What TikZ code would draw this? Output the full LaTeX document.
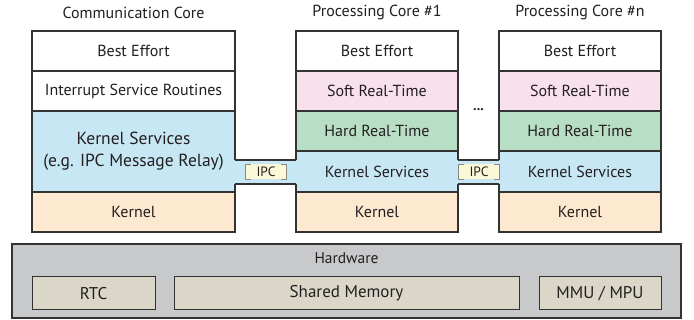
\documentclass[tikz,border=0pt]{standalone}
\usepackage{fontspec}
\setmainfont{PT Sans}
\definecolor{lineC}{HTML}{333333}
\definecolor{ksC}{HTML}{C7E7F4}
\definecolor{kC}{HTML}{FDE8D0}
\definecolor{srtC}{HTML}{F8E1EC}
\definecolor{hrtC}{HTML}{B9DEC6}
\definecolor{hwC}{HTML}{C8C9CB}
\definecolor{hwinC}{HTML}{DAD6C8}
\definecolor{ipcC}{HTML}{FBF8D8}
\definecolor{brkC}{HTML}{888888}
\definecolor{txtC}{HTML}{231F20}
\begin{document}
\begin{tikzpicture}[x=1pt,y=-1pt,
  every node/.style={font=\fontsize{16}{18}\selectfont, text=txtC},
  layer/.style={draw=lineC, line width=1.1pt, rectangle, inner sep=0pt, align=center, minimum height=40pt},
  cwide/.style={layer, minimum width=203pt},
  cnarrow/.style={layer, minimum width=162pt},
  title/.style={inner sep=0pt},
  ipcbox/.style={fill=ipcC, inner sep=0pt, minimum width=40pt, minimum height=15pt, font=\fontsize{13.5}{15}\selectfont},
  bracket/.style={draw=brkC, line width=1pt},
  hwbox/.style={draw=lineC, line width=1pt, fill=hwinC, inner sep=0pt, minimum height=33pt, font=\fontsize{17}{19}\selectfont}
]
\path[use as bounding box] (0,0) rectangle (694,320);

% titles
\node[title] (t0) at (133.5,13) {Communication Core};
\node[title] (t1) at (377,13) {Processing Core \#1};
\node[title] (t2) at (580,13) {Processing Core \#n};

% communication core
\node[cwide, fill=white] (c0be) at (133.5,51) {Best Effort};
\node[cwide, fill=white] (c0isr) at (133.5,91) {Interrupt Service Routines};
\node[cwide, fill=ksC, minimum height=81pt, font=\fontsize{17.5}{22}\selectfont] (c0ks) at (133.5,151.5) {Kernel Services\\(e.g. IPC Message Relay)};
\node[cwide, fill=kC] (c0k) at (133.5,212) {Kernel};

% processing core 1
\node[cnarrow, fill=white] (c1be) at (377,51) {Best Effort};
\node[cnarrow, fill=srtC] (c1srt) at (377,91) {Soft Real-Time};
\node[cnarrow, fill=hrtC] (c1hrt) at (377,131) {Hard Real-Time};
\node[cnarrow, fill=ksC, minimum height=41pt] (c1ks) at (377,171.5) {Kernel Services};
\node[cnarrow, fill=kC] (c1k) at (377,212) {Kernel};

% processing core n
\node[cnarrow, fill=white] (c2be) at (580,51) {Best Effort};
\node[cnarrow, fill=srtC] (c2srt) at (580,91) {Soft Real-Time};
\node[cnarrow, fill=hrtC] (c2hrt) at (580,131) {Hard Real-Time};
\node[cnarrow, fill=ksC, minimum height=41pt] (c2ks) at (580,171.5) {Kernel Services};
\node[cnarrow, fill=kC] (c2k) at (580,212) {Kernel};

% bridges
\coordinate (b1a) at (235,160);
\coordinate (b1b) at (296,184);
\coordinate (b2a) at (458,160);
\coordinate (b2b) at (499,184);
\fill[ksC] ([xshift=-1pt]b1a) rectangle ([xshift=1pt]b1b);
\fill[ksC] ([xshift=-1pt]b2a) rectangle ([xshift=1pt]b2b);
\draw[lineC, line width=1.1pt] (b1a) -- (b1a -| b1b);
\draw[lineC, line width=1.1pt] (b1b -| b1a) -- (b1b);
\draw[lineC, line width=1.1pt] (b2a) -- (b2a -| b2b);
\draw[lineC, line width=1.1pt] (b2b -| b2a) -- (b2b);

% IPC labels
\node[ipcbox] (ipc1) at (266,172) {IPC};
\node[ipcbox] (ipc2) at (479,172) {IPC};
\foreach \n in {ipc1,ipc2}{
  \draw[bracket] ([xshift=5pt]\n.north west) -| (\n.south west) -- ++(5pt,0);
  \draw[bracket] ([xshift=-5pt]\n.north east) -| (\n.south east) -- ++(-5pt,0);
}

\node[inner sep=0pt, font=\fontsize{14}{16}\selectfont\bfseries] (dots) at (478.5,110) {...};

% hardware
\node[draw=lineC, line width=1.1pt, fill=hwC, minimum width=669pt, minimum height=74pt, inner sep=0pt] (hw) at (346.5,281) {};
\node[title, font=\fontsize{15.5}{17}\selectfont] (hwl) at (346.5,258) {Hardware};
\node[hwbox, minimum width=123pt] (rtc) at (93.5,293.5) {RTC};
\node[hwbox, minimum width=345pt] (shm) at (346.5,293.5) {Shared Memory};
\node[hwbox, minimum width=122pt] (mmu) at (600,293.5) {MMU / MPU};
\end{tikzpicture}
\end{document}
